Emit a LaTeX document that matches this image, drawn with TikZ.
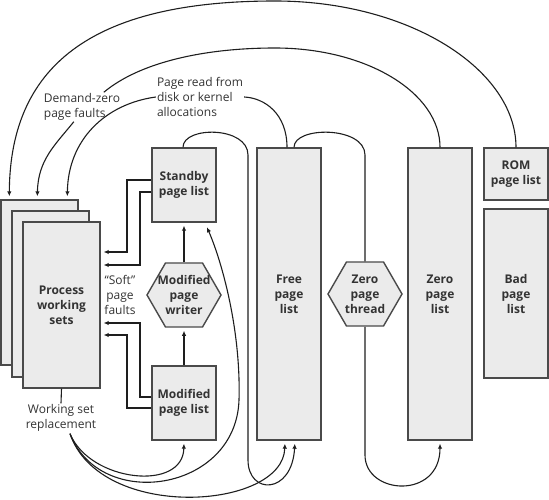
\documentclass[tikz,border=0pt]{standalone}
\usepackage{fontspec}
\setmainfont{Open Sans}
\usetikzlibrary{shapes.geometric,arrows.meta,calc}
\definecolor{boxfill}{HTML}{EBEBEB}
\definecolor{boxline}{HTML}{4A4A4A}
\definecolor{txt}{HTML}{333333}
\definecolor{linec}{HTML}{1E1E1E}
\tikzset{
  box/.style={draw=boxline, line width=1.4pt, fill=boxfill, inner sep=0pt,
    font=\fontsize{12}{15}\selectfont\bfseries, text=txt, align=center},
  hexa/.style={draw=boxline, line width=1.4pt, fill=boxfill, regular polygon,
    regular polygon sides=6, minimum size=74pt, inner sep=0pt},
  lbl/.style={font=\fontsize{12}{15}\selectfont\bfseries, text=txt, align=center},
  note/.style={font=\fontsize{12}{15}\selectfont, text=txt, align=left, inner sep=1pt},
  conn/.style={line width=1.1pt, draw=linec},
  arr/.style={conn, -{Latex[length=5pt,width=4.5pt]}, shorten >=3pt},
}
\begin{document}
\begin{tikzpicture}[x=1pt,y=-1pt]
\useasboundingbox (0,0) rectangle (549,500);
% process working sets
\node[box, minimum width=77pt, minimum height=165pt] (pw1) at (39.5,282.5) {};
\node[box, minimum width=77pt, minimum height=166pt] (pw2) at (50.5,294) {};
\node[box, minimum width=77pt, minimum height=166pt] (pw3) at (61.5,305) {Process\\working\\sets};
% lists
\node[box, minimum width=64pt, minimum height=74pt] (stb) at (184,185) {Standby\\page list};
\node[box, minimum width=64pt, minimum height=74pt] (mod) at (184,403) {Modified\\page list};
\node[hexa] (mpw) at (184,295) {};
\node[lbl] (mpwt) at (mpw) {Modified\\page\\writer};
\node[box, minimum width=64pt, minimum height=292pt] (free) at (289,294) {Free\\page\\list};
\node[hexa] (zpt) at (365,294) {};
\node[lbl] (zptt) at (zpt) {Zero\\page\\thread};
\node[box, minimum width=64pt, minimum height=292pt] (zero) at (440,294) {Zero\\page\\list};
\node[box, minimum width=64pt, minimum height=52pt] (rom) at (516,174) {ROM\\page list};
\node[box, minimum width=64pt, minimum height=169pt] (bad) at (516,293.5) {Bad\\page\\list};
% labels
\node[note] (dz) at (82,107) {Demand-zero\\page faults};
\node[note] (pr) at (200,97) {Page read from\\disk or kernel\\allocations};
\node[note, align=center] (sf) at (120,295) {``Soft''\\page\\faults};
\node[note, align=center] (ws) at (61,418) {Working set\\replacement};
% targets on the page stack
\coordinate (t1) at ($(pw1.north west)+(9,0)$);
\coordinate (t2) at ($(pw1.north west)+(37,0)$);
\coordinate (t3) at ($(pw1.north west)+(67,0)$);
% big arcs
\draw[arr] (rom.north) .. controls (516,70) and (410,1) .. (275,1)
  .. controls (100,1) and (10,60) .. (t1);
\draw[conn] (zero.north) .. controls (440,93) and (367,48) .. (275,48)
  .. controls (205,48) and (140,62) .. (dz.34);
\draw[arr] (dz.-119) .. controls (55,145) and (38,160) .. (t2);
\draw[conn] ($(free.north)+(-2,0)$) .. controls (287,114) and (265,98) .. (pr.east);
\draw[arr] (pr.west) .. controls (105,104) and (68,140) .. (t3);
% loops
\draw[arr] ($(stb.north)+(-1,0)$) .. controls (183,126) and (248,126) .. (248,155)
  -- (248,460) .. controls (248,495) and (292,495) .. ($(free.south)+(6,0)$);
\draw[conn] ($(free.north)+(5,0)$) .. controls (294,126) and (365,126) .. (365,155)
  -- (zpt.north);
\draw[arr] (zpt.south) -- (365,455) .. controls (365,495) and (440,500) .. (zero.south);
% vertical
\draw[arr] (mod.north) -- (mpw.south);
\draw[arr] (mpw.north) -- (stb.south);
% soft faults
\draw[arr] ($(stb.west)+(0,-5)$) -- (127,180) -- (127,252) -- ($(pw3.east)+(0,-53)$);
\draw[arr] ($(stb.west)+(0,7)$) -- (140,192) -- (140,265) -- ($(pw3.east)+(0,-40)$);
\draw[arr] ($(mod.west)+(0,-6)$) -- (140,397) -- (140,323) -- ($(pw3.east)+(0,18)$);
\draw[arr] ($(mod.west)+(0,5)$) -- (127,408) -- (127,335) -- ($(pw3.east)+(0,30)$);
% working set replacement
\draw[conn] (pw3.south) -- (ws.north);
\coordinate (wsa) at ($(ws.south)+(9,1)$);
\draw[arr] (wsa) .. controls (90,482) and (183,492) .. (mod.south);
\draw[arr, shorten >=5pt] (wsa) .. controls (100,512) and (236,492) .. (239,400)
  .. controls (241,330) and (222,262) .. ($(stb.south)+(21,0)$);
\draw[arr] (wsa) .. controls (100,522) and (283,510) .. ($(free.south)+(-4,0)$);
\end{tikzpicture}
\end{document}
